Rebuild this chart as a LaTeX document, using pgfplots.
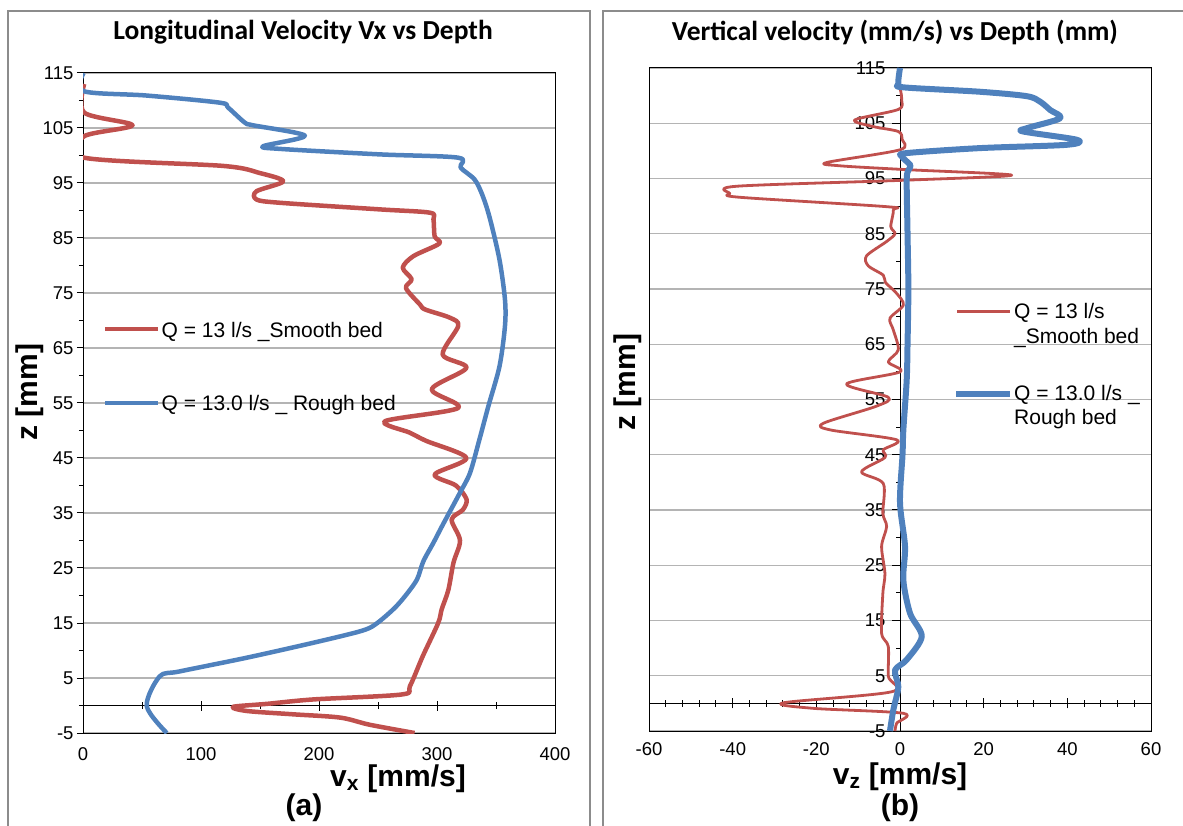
\documentclass[border=0pt]{standalone}
\usepackage{fontspec}
\setmainfont{Liberation Sans}
\newfontfamily\calibri{Carlito}
\usepackage{pgfplots}
\pgfplotsset{compat=1.18}
\definecolor{exred}{RGB}{192,80,77}
\definecolor{exblue}{RGB}{79,129,189}
\definecolor{gridgray}{RGB}{180,180,180}
\definecolor{bordergray}{RGB}{140,140,140}
\newcommand{\tickfont}{\fontsize{18.5}{19}\selectfont}
\newcommand{\legfont}{\fontsize{21}{25}\selectfont}
\newcommand{\labfont}{\fontsize{30}{32}\selectfont\bfseries}
\newcommand{\titfont}{\fontsize{27.5}{30}\selectfont\calibri\bfseries}
\pgfplotsset{
  base/.style={anchor=south west, scale only axis,
    tick label style={font=\tickfont}, /pgf/number format/assume math mode=true,
    every tick/.style={black, line width=1pt},
    axis line style={black, line width=1pt}},
}
\begin{document}
\begin{tikzpicture}[x=1pt,y=1pt]
\path[use as bounding box] (0pt,0pt) rectangle (1183pt,825pt);
\draw[bordergray, line width=1.5pt] (8pt,814pt) rectangle (590pt,-10pt);
\draw[bordergray, line width=1.5pt] (603pt,814pt) rectangle (1200pt,-10pt);

% ---------------- Panel (a) ----------------
\begin{axis}[base, at={(83pt,92pt)}, width=472pt, height=660pt,
  xmin=0, xmax=400, ymin=-5, ymax=115,
  xtick={0,100,...,400}, ytick={-5,5,...,115}, minor ytick={0,10,...,110},
  xtick style={draw=none}, ytick pos=left,
  tick align=outside, major tick length=6pt, minor tick length=4pt,
  ymajorgrids, major grid style={gridgray, line width=1.1pt},
  xticklabel style={yshift=-5pt}]
\end{axis}
\begin{axis}[base, at={(83pt,92pt)}, width=472pt, height=660pt,
  xmin=0, xmax=400, ymin=-5, ymax=115,
  axis x line*=middle, axis y line=none,
  xtick={0,100,...,400}, minor xtick={50,150,...,350}, xticklabels={},
  tick align=center, major tick length=10pt, minor tick length=7pt]
\addplot[exred, line width=4.5pt, smooth, tension=0.5, line join=round] coordinates {
(281,-5) (243,-3.5) (218,-2.2) (178,-1.6) (139,-1) (127,-0.25) (156,0.3) (195,1.1)
(270,2) (277,3.5) (288,9) (301,15) (304,17.5) (309.6,21) (314,26) (319.5,30)
(312.4,33.8) (322,35.6) (325,37.5) (316,40) (298,42) (325,45) (291,48.1) (277,49.6)
(256,51.7) (318,54.1) (295.5,57.5) (325,61.4) (304.8,63.8) (318,69) (311,70.5)
(290,72) (285.6,72.9) (273.7,75.9) (278.5,77.5) (271,79.6) (280,81.7) (302,84)
(298,85.3) (297,88.4) (294,89.6) (251.7,90.2) (167,91.4) (147,92) (147,93.5)
(169.7,95.3) (150,96.8) (119,98.1) (1,99.6) (1,103.5) (42,105.5) (1,107.8) (1,113)};
\addplot[exblue, line width=4.5pt, smooth, tension=0.5, line join=round] coordinates {
(71,-5) (54,-0.1) (65,5.3) (82,6.2) (139,8.7) (195,11.4) (235,13.5) (247.5,14.7)
(263,17.5) (273,19.9) (283,22.9) (288.4,26.2) (297,29.6) (305,32.9) (319.5,38.7)
(328,42.3) (336,48.4) (343.5,54.4) (353,61.7) (357.6,69) (357.6,73.8) (353,81)
(345,88.4) (339,92.5) (332,95.6) (320,97.8) (318,99.6) (251.7,100.2) (167,101.2)
(152.8,101.7) (188,103.6) (144,105.5) (137,106) (123,108.7) (116,109.6) (54,110.9)
(0.5,111.7) (0.5,115)};
\end{axis}

% ---------------- Panel (b) ----------------
\begin{axis}[base, at={(649pt,94pt)}, width=502pt, height=663pt,
  xmin=-60, xmax=60, ymin=-5, ymax=115,
  xtick={-60,-40,...,60}, ytick={-5,5,...,115}, yticklabels={},
  xtick style={draw=none}, ytick style={draw=none},
  tick align=outside, major tick length=6pt,
  ymajorgrids, major grid style={gridgray, line width=1.1pt},
  xticklabel style={yshift=-2pt}]
\end{axis}
\begin{axis}[base, at={(649pt,94pt)}, width=502pt, height=663pt,
  xmin=-60, xmax=60, ymin=-5, ymax=115,
  axis x line*=middle, axis y line=none,
  xtick={-60,-40,...,60}, minor xtick={-56,-52,...,56}, xticklabels={},
  tick align=center, major tick length=10pt, minor tick length=7pt]
\end{axis}
\begin{axis}[base, at={(649pt,94pt)}, width=502pt, height=663pt,
  xmin=-60, xmax=60, ymin=-5, ymax=115,
  axis y line*=middle, axis x line=none,
  ytick={-5,5,...,115}, minor ytick={0,10,...,110},
  tick align=outside, major tick length=8pt, minor tick length=4pt,
  yticklabel style={xshift=-3pt}]
\addplot[exred, line width=2.8pt, smooth, tension=0.5, line join=round] coordinates {
(-1.2,-5) (-0.8,-3.6) (0.8,-1.8) (-20.7,-0.9) (-27.9,0.1) (-2,2.1) (-2.8,4.9)
(-2.8,10.3) (-4.4,12.7) (-4.1,19.9) (-3.6,23.5) (-4.4,28.4) (-3.2,32) (-4.1,34.4)
(-4,39.8) (-9.2,41.9) (-3.6,44.5) (-4,45.9) (-0.8,47.7) (-16.7,49.5) (-18.3,50.7)
(-5.6,53.8) (-2.8,55.4) (-12.8,57.8) (0,60) (-2.8,61.8) (-0.4,64) (-1.6,67.6)
(-2.4,69.7) (0.8,72.1) (-0.8,74.2) (-3.5,76.2) (-4,77.5) (-7.6,79.2) (-8,81)
(-3.2,83.6) (-1.2,85) (-2.2,86.3) (-1.6,89.3) (-3.2,89.9) (-38.3,91.6) (-40.7,92.3)
(-39,93.6) (1.6,94.7) (26.7,95.6) (1.6,96.6) (-14.4,97.3) (-17.5,97.9) (0,100.2)
(0.5,102.1) (-0.4,103.5) (-6.4,104.4) (-10.8,105.6) (-0.4,107.5) (0.4,109.2)
(0.2,110.7) (-0.3,112)};
\addplot[exblue, line width=6pt, smooth, tension=0.5, line join=round] coordinates {
(-2.4,-5) (-1.6,-1.2) (-0.4,3) (-1.2,6) (1.6,7.9) (5.2,12.1) (2.4,16.3) (0.8,22.3)
(1.2,28.4) (0,36.3) (0.6,45) (0.8,49.5) (1.6,58.5) (1.8,65) (2,75) (1.8,85)
(1.6,94.7) (2,96.5) (2.5,97.4) (0.4,99) (1.6,99.6) (19.1,100.5) (39.9,101.1)
(42.3,102) (29.5,103.5) (30.3,104.1) (38.3,105.9) (35.9,107.4) (33.5,108.9)
(30.3,109.9) (19.1,110.7) (0.8,111.5) (-0.4,112.2) (0,115)};
\end{axis}

% ---------------- Titles and labels ----------------
\node[font=\titfont] at (303pt,793pt) {Longitudinal Velocity Vx vs Depth};
\node[font=\titfont] at (895pt,793pt) {Vertical velocity (mm/s) vs Depth (mm)};
\node[font=\labfont, rotate=90] at (30pt,433pt) {z [mm]};
\node[font=\labfont, rotate=90] at (628pt,443pt) {z [mm]};
\node[font=\labfont] at (398pt,46pt) {v\textsubscript{x} [mm/s]};
\node[font=\labfont] at (304pt,17pt) {(a)};
\node[font=\labfont] at (900pt,48pt) {v\textsubscript{z} [mm/s]};
\node[font=\labfont] at (900pt,17pt) {(b)};

% ---------------- Legends ----------------
\draw[exred, line width=4pt] (105pt,495.7pt) -- (158pt,495.7pt);
\node[font=\legfont, anchor=base west, inner sep=0pt] at (161.5pt,487.7pt) {Q = 13 l/s \_Smooth bed};
\draw[exblue, line width=4pt] (105pt,422.3pt) -- (158pt,422.3pt);
\node[font=\legfont, anchor=base west, inner sep=0pt] at (161.5pt,414.3pt) {Q = 13.0 l/s \_ Rough bed};

\draw[exred, line width=2.8pt] (957pt,513.3pt) -- (1010pt,513.3pt);
\node[font=\legfont, anchor=base west, inner sep=0pt] at (1014pt,506.7pt) {Q = 13 l/s};
\node[font=\legfont, anchor=base west, inner sep=0pt] at (1014pt,481.7pt) {\_Smooth bed};
\draw[exblue, line width=6pt] (956pt,431pt) -- (1010pt,431pt);
\node[font=\legfont, anchor=base west, inner sep=0pt] at (1014pt,424pt) {Q = 13.0 l/s \_};
\node[font=\legfont, anchor=base west, inner sep=0pt] at (1014pt,400pt) {Rough bed};
\end{tikzpicture}
\end{document}
